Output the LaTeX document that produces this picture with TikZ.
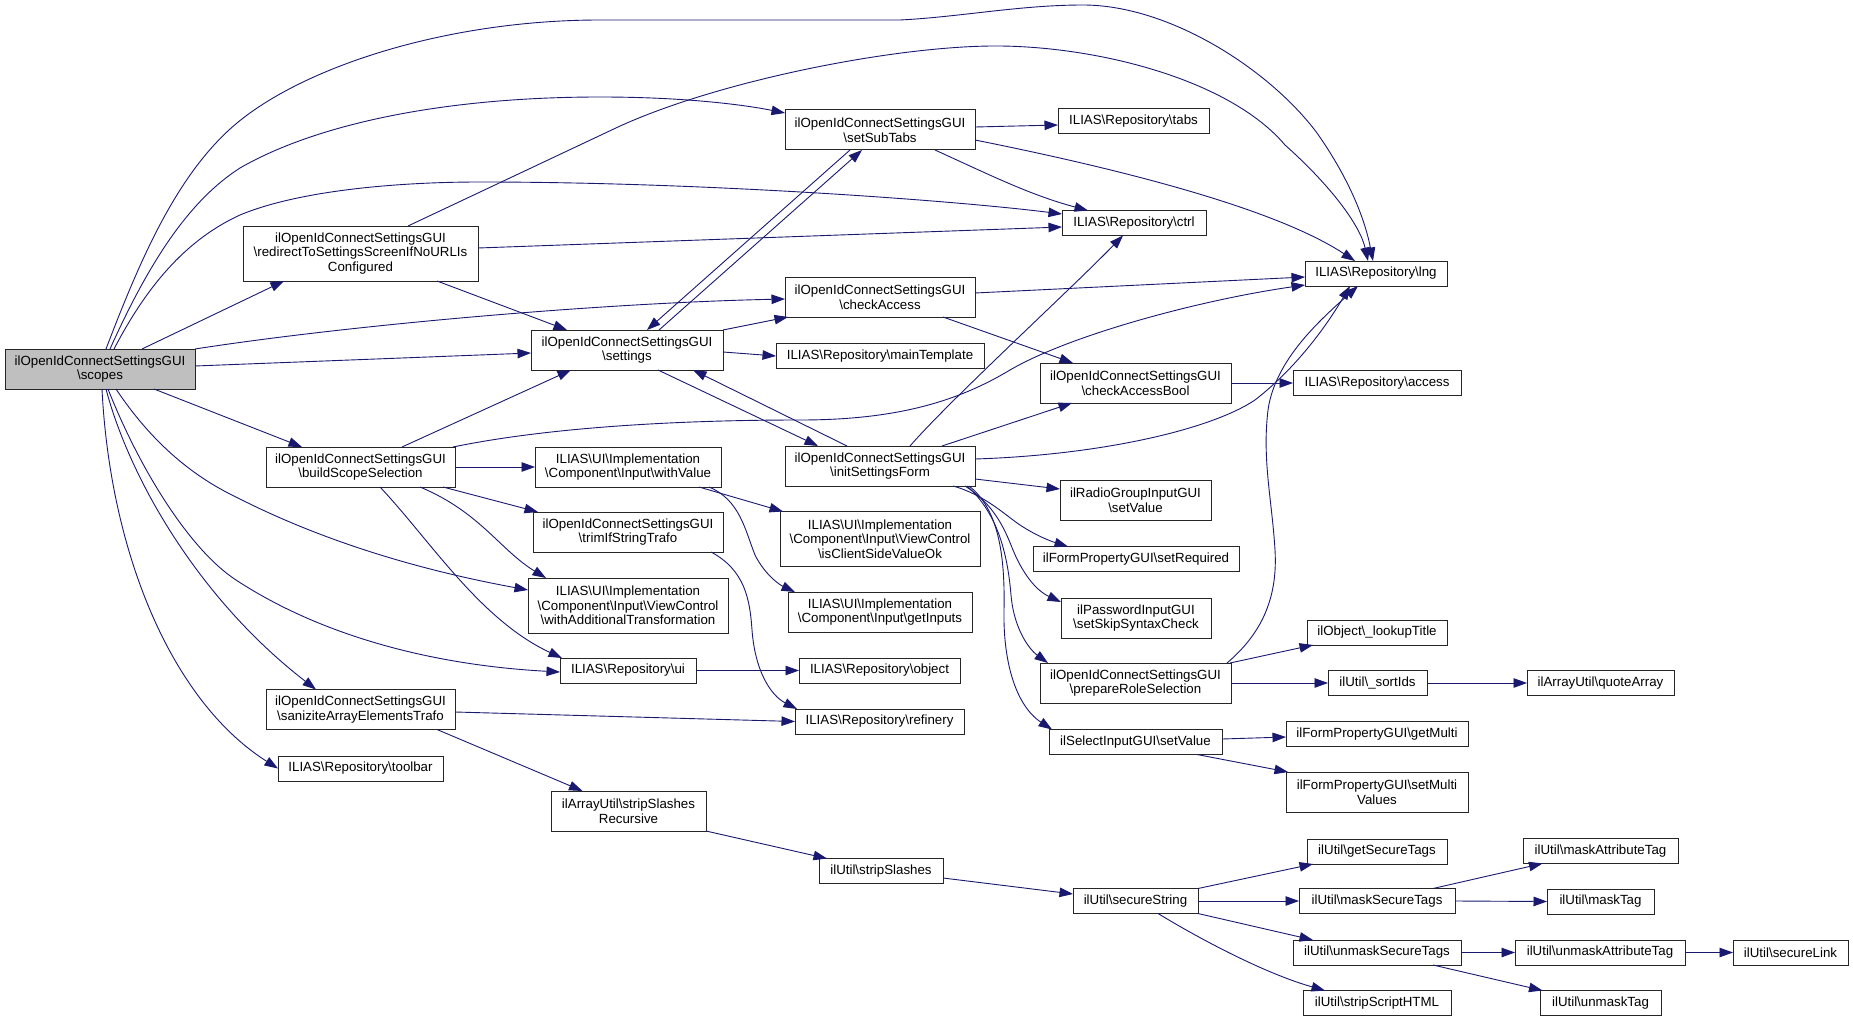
\documentclass[tikz,border=0pt]{standalone}
\usepackage{fontspec}
\setmainfont{Liberation Sans}
\usetikzlibrary{arrows.meta}
\definecolor{edgeblue}{HTML}{191970}
\definecolor{nodegray}{HTML}{BFBFBF}
\newcommand{\BSL}{\textbackslash}
\begin{document}
\begin{tikzpicture}[x=1pt,y=-1pt,
  box/.style={draw=black!85, fill=white, line width=1pt, inner sep=0pt, outer sep=0pt,
    align=center, font=\fontsize{13.3}{14.5}\selectfont},
  edge/.style={draw=edgeblue, line width=0.9pt, -{Triangle[length=13.5pt,width=9.5pt]}},
]
\fill[white] (0,0) rectangle (1853,1022);
\useasboundingbox (0,0) rectangle (1853,1022);

% ---- nodes ----
\node[box, fill=nodegray, minimum width=190pt, minimum height=40pt] (S) at (100,369) {ilOpenIdConnectSettingsGUI\\\BSL scopes};
\node[box, minimum width=235pt, minimum height=55pt] (R) at (360.5,253.5) {ilOpenIdConnectSettingsGUI\\\BSL redirectToSettingsScreenIfNoURLIs\\Configured};
\node[box, minimum width=190pt, minimum height=40pt] (SST) at (880,130) {ilOpenIdConnectSettingsGUI\\\BSL setSubTabs};
\node[box, minimum width=151pt, minimum height=25pt] (tabs) at (1133.5,121.5) {ILIAS\BSL Repository\BSL tabs};
\node[box, minimum width=144pt, minimum height=25pt] (ctrl) at (1134,223) {ILIAS\BSL Repository\BSL ctrl};
\node[box, minimum width=142pt, minimum height=25pt] (lng) at (1376,273.5) {ILIAS\BSL Repository\BSL lng};
\node[box, minimum width=190pt, minimum height=40pt] (CA) at (880,297) {ilOpenIdConnectSettingsGUI\\\BSL checkAccess};
\node[box, minimum width=192pt, minimum height=40pt] (SET) at (627,350) {ilOpenIdConnectSettingsGUI\\\BSL settings};
\node[box, minimum width=208pt, minimum height=25pt] (MT) at (880,356) {ILIAS\BSL Repository\BSL mainTemplate};
\node[box, minimum width=191pt, minimum height=40pt] (CAB) at (1135.5,383) {ilOpenIdConnectSettingsGUI\\\BSL checkAccessBool};
\node[box, minimum width=168pt, minimum height=25pt] (access) at (1377,383) {ILIAS\BSL Repository\BSL access};
\node[box, minimum width=189pt, minimum height=40pt] (BSS) at (360.5,467) {ilOpenIdConnectSettingsGUI\\\BSL buildScopeSelection};
\node[box, minimum width=186pt, minimum height=40pt] (WV) at (628,467) {ILIAS\BSL UI\BSL Implementation\\\BSL Component\BSL Input\BSL withValue};
\node[box, minimum width=190pt, minimum height=40pt] (TRIM) at (628,532) {ilOpenIdConnectSettingsGUI\\\BSL trimIfStringTrafo};
\node[box, minimum width=200pt, minimum height=55pt] (WAT) at (628,605.5) {ILIAS\BSL UI\BSL Implementation\\\BSL Component\BSL Input\BSL ViewControl\\\BSL withAdditionalTransformation};
\node[box, minimum width=136pt, minimum height=25pt] (ui) at (628,670.5) {ILIAS\BSL Repository\BSL ui};
\node[box, minimum width=190pt, minimum height=40pt] (ISF) at (880,466) {ilOpenIdConnectSettingsGUI\\\BSL initSettingsForm};
\node[box, minimum width=200pt, minimum height=55pt] (ICS) at (880,539) {ILIAS\BSL UI\BSL Implementation\\\BSL Component\BSL Input\BSL ViewControl\\\BSL isClientSideValueOk};
\node[box, minimum width=184pt, minimum height=40pt] (GI) at (880,612) {ILIAS\BSL UI\BSL Implementation\\\BSL Component\BSL Input\BSL getInputs};
\node[box, minimum width=161pt, minimum height=25pt] (OBJ) at (879.5,670.5) {ILIAS\BSL Repository\BSL object};
\node[box, minimum width=169pt, minimum height=25pt] (REF) at (879.5,721.5) {ILIAS\BSL Repository\BSL refinery};
\node[box, minimum width=189pt, minimum height=40pt] (SAN) at (360.5,709.5) {ilOpenIdConnectSettingsGUI\\\BSL saniziteArrayElementsTrafo};
\node[box, minimum width=165pt, minimum height=25pt] (TB) at (360.5,768.5) {ILIAS\BSL Repository\BSL toolbar};
\node[box, minimum width=151pt, minimum height=40pt] (RGS) at (1135.5,500) {ilRadioGroupInputGUI\\\BSL setValue};
\node[box, minimum width=206pt, minimum height=25pt] (SR) at (1136,559) {ilFormPropertyGUI\BSL setRequired};
\node[box, minimum width=150pt, minimum height=40pt] (PW) at (1136,618) {ilPasswordInputGUI\\\BSL setSkipSyntaxCheck};
\node[box, minimum width=191pt, minimum height=40pt] (PRS) at (1135.5,683) {ilOpenIdConnectSettingsGUI\\\BSL prepareRoleSelection};
\node[box, minimum width=173pt, minimum height=25pt] (SIS) at (1135.5,742) {ilSelectInputGUI\BSL setValue};
\node[box, minimum width=140pt, minimum height=25pt] (LT) at (1377,632.5) {ilObject\BSL\_lookupTitle};
\node[box, minimum width=99pt, minimum height=25pt] (SI) at (1377.5,683) {ilUtil\BSL\_sortIds};
\node[box, minimum width=182pt, minimum height=25pt] (GM) at (1377,734) {ilFormPropertyGUI\BSL getMulti};
\node[box, minimum width=182pt, minimum height=40pt] (SMV) at (1377,792) {ilFormPropertyGUI\BSL setMulti\\Values};
\node[box, minimum width=147pt, minimum height=25pt] (QA) at (1600.5,683) {ilArrayUtil\BSL quoteArray};
\node[box, minimum width=155pt, minimum height=40pt] (SSR) at (628.5,811) {ilArrayUtil\BSL stripSlashes\\Recursive};
\node[box, minimum width=124pt, minimum height=25pt] (SS) at (881,871) {ilUtil\BSL stripSlashes};
\node[box, minimum width=125pt, minimum height=25pt] (SEC) at (1135.5,901) {ilUtil\BSL secureString};
\node[box, minimum width=140pt, minimum height=25pt] (GST) at (1377,851.5) {ilUtil\BSL getSecureTags};
\node[box, minimum width=156pt, minimum height=25pt] (MST) at (1377,901) {ilUtil\BSL maskSecureTags};
\node[box, minimum width=168pt, minimum height=25pt] (UST) at (1377,952.5) {ilUtil\BSL unmaskSecureTags};
\node[box, minimum width=148pt, minimum height=25pt] (SSH) at (1377,1003) {ilUtil\BSL stripScriptHTML};
\node[box, minimum width=155pt, minimum height=25pt] (MAT) at (1600.5,851) {ilUtil\BSL maskAttributeTag};
\node[box, minimum width=107pt, minimum height=25pt] (MTG) at (1600.5,901.5) {ilUtil\BSL maskTag};
\node[box, minimum width=170pt, minimum height=25pt] (UAT) at (1600,952.5) {ilUtil\BSL unmaskAttributeTag};
\node[box, minimum width=115pt, minimum height=25pt] (SL) at (1790.5,952.5) {ilUtil\BSL secureLink};
\node[box, minimum width=121pt, minimum height=25pt] (UT) at (1600.5,1003) {ilUtil\BSL unmaskTag};

% ---- edges from scopes ----
\draw[edge] ([xshift=6pt]S.north) .. controls (140,260) and (177,173) .. (237,123)
  .. controls (307,65) and (450,20) .. (600,20) -- (900,20)
  .. controls (960,17) and (1020,5) .. (1083,5) .. controls (1170,5) and (1270,70) .. (1317,133)
  .. controls (1350,180) and (1365,220) .. ([xshift=-3pt]lng.north);
\draw[edge] ([xshift=10pt]S.north) .. controls (150,260) and (190,200) .. (240,168)
  .. controls (320,122) and (450,97) .. (600,97) .. controls (680,97) and (740,104) .. ([yshift=-3pt]SST.north west);
\draw[edge] ([xshift=14pt]S.north) .. controls (150,280) and (190,238) .. (240,215)
  .. controls (300,190) and (400,182) .. (480,182) .. controls (700,182) and (950,200) .. ([yshift=9pt]ctrl.west);
\draw[edge] ([xshift=42pt]S.north) -- ([xshift=-76.5pt]R.south);
\draw[edge] (S.north east) .. controls (350,325) and (600,303) .. ([yshift=-2pt]CA.west);
\draw[edge] ([yshift=3pt]S.east) -- ([yshift=-3pt]SET.west);
\draw[edge] ([xshift=54pt]S.south) -- ([xshift=-58.5pt]BSS.north);
\draw[edge] ([xshift=16pt]S.south) .. controls (150,440) and (190,475) .. (236,497)
  .. controls (330,545) and (430,572) .. ([yshift=15.5pt]WAT.west);
\draw[edge] ([xshift=8pt]S.south) .. controls (140,470) and (190,550) .. (236,580)
  .. controls (320,635) and (430,665) .. ([yshift=-1.5pt]ui.west);
\draw[edge] ([xshift=6pt]S.south) .. controls (130,480) and (200,600) .. ([xshift=-44.5pt]SAN.north);
\draw[edge] ([xshift=2pt]S.south) .. controls (110,550) and (170,700) .. (TB.west);

% ---- redirect ----
\draw[edge] ([xshift=47.5pt]R.north) -- (618,127) .. controls (720,80) and (900,45) .. (1000,46)
  .. controls (1100,47) and (1230,80) .. (1285,145) .. controls (1330,185) and (1360,225) .. ([xshift=-8pt]lng.north);
\draw[edge] ([yshift=5.5pt]R.east) -- ([yshift=-4pt]ctrl.west);
\draw[edge] ([xshift=76.5pt]R.south) -- ([xshift=-60pt]SET.north);

% ---- setSubTabs ----
\draw[edge] ([yshift=3pt]SST.east) -- ([yshift=-3.5pt]tabs.west);
\draw[edge] ([xshift=55pt]SST.south) .. controls (990,175) and (1030,195) .. ([xshift=-46pt]ctrl.north);
\draw[edge] ([yshift=-10pt]SST.east) .. controls (1100,165) and (1270,205) .. ([xshift=-21pt]lng.north);
\draw[edge] ([xshift=-30pt]SST.south) -- ([xshift=20pt]SET.north);

% ---- settings ----
\draw[edge] ([xshift=32pt]SET.north) -- ([xshift=-18pt]SST.south);
\draw[edge] (SET.north east) -- ([xshift=3pt]CA.south west);
\draw[edge] ([yshift=-2pt]SET.east) -- (MT.west);
\draw[edge] ([xshift=31pt]SET.south) -- ([xshift=-62pt]ISF.north);

% ---- checkAccess ----
\draw[edge] ([yshift=4pt]CA.east) -- ([yshift=-3.5pt]lng.west);
\draw[edge] ([xshift=63pt]CA.south) -- ([xshift=-62.5pt]CAB.north);
\draw[edge] (CAB.east) -- (access.west);

% ---- buildScopeSelection ----
\draw[edge] ([xshift=41.5pt]BSS.north) -- ([xshift=-56pt]SET.south);
\draw[edge] ([xshift=92.5pt]BSS.north) .. controls (560,425) and (700,420) .. (800,420)
  .. controls (900,420) and (960,400) .. (1010,370) .. controls (1070,335) and (1200,300) .. ([yshift=1pt]lng.south west);
\draw[edge] (BSS.east) -- (WV.west);
\draw[edge] ([xshift=82.5pt]BSS.south) -- ([xshift=-90pt]TRIM.north);
\draw[edge] ([xshift=59.5pt]BSS.south) .. controls (480,512) and (500,550) .. ([xshift=-82pt]WAT.north);
\draw[edge] ([xshift=19.5pt]BSS.south) .. controls (430,540) and (480,620) .. ([xshift=-66pt]ui.north);

% ---- withValue / trim / ui / sanizite ----
\draw[edge] ([xshift=71pt]WV.south) -- ([xshift=-97pt]ICS.north);
\draw[edge] ([xshift=81pt]WV.south) .. controls (740,500) and (745,530) .. (755,555)
  .. controls (765,575) and (780,585) .. ([xshift=-85pt]GI.north);
\draw[edge] ([xshift=83pt]TRIM.south) .. controls (745,570) and (750,600) .. (752,630)
  .. controls (755,670) and (770,695) .. ([xshift=-82.5pt]REF.north);
\draw[edge] (ui.east) -- (OBJ.west);
\draw[edge] ([yshift=-2.5pt]SAN.east) -- (REF.west);
\draw[edge] ([xshift=76.5pt]SAN.south) -- ([xshift=-46pt]SSR.north);

% ---- strip / secure chain ----
\draw[edge] (SSR.south east) -- ([xshift=-54pt]SS.north);
\draw[edge] ([yshift=-7pt]SS.east) -- ([yshift=7pt]SEC.west);
\draw[edge] (SEC.north east) -- ([xshift=-64pt]GST.south);
\draw[edge] (SEC.east) -- (MST.west);
\draw[edge] (SEC.south east) -- ([xshift=-64pt]UST.north);
\draw[edge] ([xshift=22.5pt]SEC.south) .. controls (1210,945) and (1270,975) .. ([xshift=-52pt]SSH.north);
\draw[edge] ([xshift=56pt]MST.north) -- ([xshift=-58pt]MAT.south);
\draw[edge] (MST.east) -- (MTG.west);
\draw[edge] (UST.east) -- (UAT.west);
\draw[edge] ([xshift=56pt]UST.south) -- ([xshift=-58pt]UT.north);
\draw[edge] (UAT.east) -- (SL.west);

% ---- initSettingsForm ----
\draw[edge] ([xshift=-33pt]ISF.north) -- ([xshift=66pt]SET.south);
\draw[edge] ([xshift=30pt]ISF.north) .. controls (950,400) and (1070,290) .. ([xshift=-11pt]ctrl.south);
\draw[edge] ([xshift=62pt]ISF.north) -- ([xshift=-63.5pt]CAB.south);
\draw[edge] ([yshift=7pt]ISF.east) .. controls (1100,455) and (1210,430) .. (1255,400)
  .. controls (1300,365) and (1330,320) .. ([xshift=-26pt]lng.south);
\draw[edge] ([yshift=-13pt]ISF.east) -- ([yshift=11pt]RGS.west);
\draw[edge] ([xshift=73pt]ISF.south) .. controls (985,495) and (1005,515) .. (1020,525)
  .. controls (1035,535) and (1050,541) .. ([xshift=-68pt]SR.north);
\draw[edge] ([xshift=85pt]ISF.south) .. controls (995,505) and (1005,530) .. (1013,550)
  .. controls (1022,572) and (1035,590) .. ([yshift=16pt]PW.west);
\draw[edge] ([xshift=87pt]ISF.south) .. controls (1000,515) and (1008,560) .. (1011,595)
  .. controls (1014,630) and (1030,650) .. ([xshift=-87.5pt]PRS.north);
\draw[edge] ([xshift=89pt]ISF.south) .. controls (1000,510) and (1005,560) .. (1004,610)
  .. controls (1003,660) and (1015,705) .. ([xshift=-83.5pt]SIS.north);

% ---- prepareRoleSelection / select ----
\draw[edge] ([xshift=91.5pt]PRS.north) .. controls (1260,635) and (1278,600) .. (1275,550)
  .. controls (1272,500) and (1262,460) .. (1268,410) .. controls (1275,360) and (1320,320) .. ([xshift=-18pt]lng.south);
\draw[edge] ([xshift=94.5pt]PRS.north) -- ([xshift=-64pt]LT.south);
\draw[edge] (PRS.east) -- (SI.west);
\draw[edge] (SI.east) -- (QA.west);
\draw[edge] ([yshift=3pt]SIS.east) -- ([yshift=-3pt]GM.west);
\draw[edge] ([xshift=61.5pt]SIS.south) -- ([xshift=2pt]SMV.north west);
\end{tikzpicture}
\end{document}
